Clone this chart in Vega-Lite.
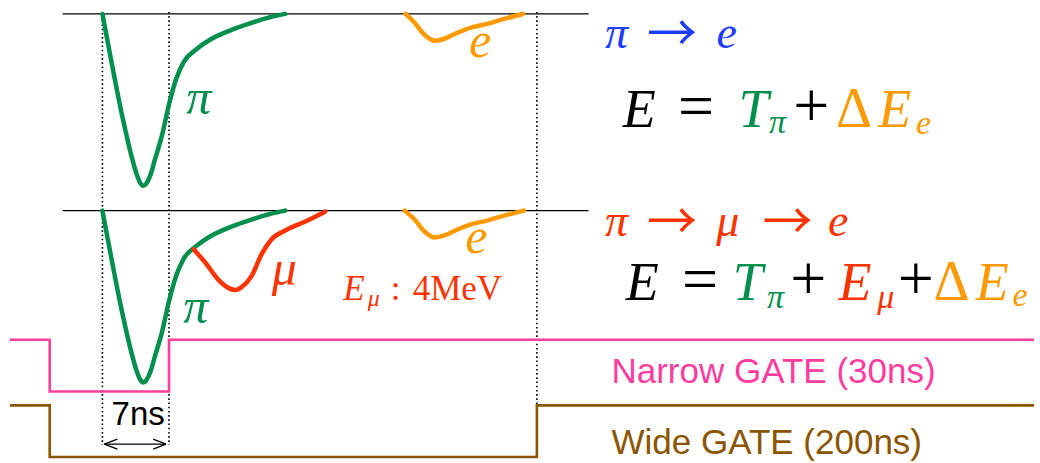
{
  "$schema": "https://vega.github.io/schema/vega-lite/v6.json",
  "width": 1040,
  "height": 463,
  "autosize": {"type": "fit", "contains": "padding"},
  "padding": 0,
  "background": "white",
  "config": {"view": {"stroke": null}},
  "datasets": {
    "baselines": [
      {"x": 63, "x2": 592, "y": 14},
      {"x": 63, "x2": 592, "y": 212}
    ],
    "timing": [
      {"x": 103, "y": 12, "y2": 448},
      {"x": 170, "y": 12, "y2": 448},
      {"x": 540, "y": 12, "y2": 408}
    ],
    "pulses": [
      {"trace": "pi1", "particle": "pion", "x": 103, "y": 14},
      {"trace": "pi1", "particle": "pion", "x": 113, "y": 67},
      {"trace": "pi1", "particle": "pion", "x": 123, "y": 117},
      {"trace": "pi1", "particle": "pion", "x": 133, "y": 160},
      {"trace": "pi1", "particle": "pion", "x": 137, "y": 174},
      {"trace": "pi1", "particle": "pion", "x": 141, "y": 184},
      {"trace": "pi1", "particle": "pion", "x": 144, "y": 187},
      {"trace": "pi1", "particle": "pion", "x": 147, "y": 185},
      {"trace": "pi1", "particle": "pion", "x": 151, "y": 177},
      {"trace": "pi1", "particle": "pion", "x": 156, "y": 160},
      {"trace": "pi1", "particle": "pion", "x": 163, "y": 136},
      {"trace": "pi1", "particle": "pion", "x": 170, "y": 105},
      {"trace": "pi1", "particle": "pion", "x": 177, "y": 80},
      {"trace": "pi1", "particle": "pion", "x": 185, "y": 62},
      {"trace": "pi1", "particle": "pion", "x": 197, "y": 50},
      {"trace": "pi1", "particle": "pion", "x": 213, "y": 39},
      {"trace": "pi1", "particle": "pion", "x": 233, "y": 30},
      {"trace": "pi1", "particle": "pion", "x": 253, "y": 23},
      {"trace": "pi1", "particle": "pion", "x": 273, "y": 17},
      {"trace": "pi1", "particle": "pion", "x": 287, "y": 14},
      {"trace": "e1", "particle": "positron", "x": 408, "y": 14},
      {"trace": "e1", "particle": "positron", "x": 417, "y": 23},
      {"trace": "e1", "particle": "positron", "x": 427, "y": 35},
      {"trace": "e1", "particle": "positron", "x": 437, "y": 41},
      {"trace": "e1", "particle": "positron", "x": 447, "y": 39},
      {"trace": "e1", "particle": "positron", "x": 460, "y": 33},
      {"trace": "e1", "particle": "positron", "x": 473, "y": 28},
      {"trace": "e1", "particle": "positron", "x": 490, "y": 24},
      {"trace": "e1", "particle": "positron", "x": 507, "y": 19},
      {"trace": "e1", "particle": "positron", "x": 526, "y": 14},
      {"trace": "pi2", "particle": "pion", "x": 103, "y": 212},
      {"trace": "pi2", "particle": "pion", "x": 113, "y": 265},
      {"trace": "pi2", "particle": "pion", "x": 123, "y": 315},
      {"trace": "pi2", "particle": "pion", "x": 133, "y": 358},
      {"trace": "pi2", "particle": "pion", "x": 137, "y": 372},
      {"trace": "pi2", "particle": "pion", "x": 141, "y": 382},
      {"trace": "pi2", "particle": "pion", "x": 144, "y": 385},
      {"trace": "pi2", "particle": "pion", "x": 147, "y": 383},
      {"trace": "pi2", "particle": "pion", "x": 151, "y": 375},
      {"trace": "pi2", "particle": "pion", "x": 156, "y": 358},
      {"trace": "pi2", "particle": "pion", "x": 163, "y": 334},
      {"trace": "pi2", "particle": "pion", "x": 170, "y": 303},
      {"trace": "pi2", "particle": "pion", "x": 177, "y": 278},
      {"trace": "pi2", "particle": "pion", "x": 185, "y": 260},
      {"trace": "pi2", "particle": "pion", "x": 197, "y": 248},
      {"trace": "pi2", "particle": "pion", "x": 213, "y": 237},
      {"trace": "pi2", "particle": "pion", "x": 233, "y": 228},
      {"trace": "pi2", "particle": "pion", "x": 253, "y": 221},
      {"trace": "pi2", "particle": "pion", "x": 273, "y": 215},
      {"trace": "pi2", "particle": "pion", "x": 287, "y": 212},
      {"trace": "mu2", "particle": "muon", "x": 195, "y": 251},
      {"trace": "mu2", "particle": "muon", "x": 207, "y": 265},
      {"trace": "mu2", "particle": "muon", "x": 220, "y": 282},
      {"trace": "mu2", "particle": "muon", "x": 230, "y": 290},
      {"trace": "mu2", "particle": "muon", "x": 237, "y": 292},
      {"trace": "mu2", "particle": "muon", "x": 243, "y": 289},
      {"trace": "mu2", "particle": "muon", "x": 253, "y": 278},
      {"trace": "mu2", "particle": "muon", "x": 263, "y": 256},
      {"trace": "mu2", "particle": "muon", "x": 273, "y": 241},
      {"trace": "mu2", "particle": "muon", "x": 287, "y": 232},
      {"trace": "mu2", "particle": "muon", "x": 307, "y": 223},
      {"trace": "mu2", "particle": "muon", "x": 327, "y": 213},
      {"trace": "e2", "particle": "positron", "x": 407, "y": 212},
      {"trace": "e2", "particle": "positron", "x": 417, "y": 221},
      {"trace": "e2", "particle": "positron", "x": 427, "y": 233},
      {"trace": "e2", "particle": "positron", "x": 437, "y": 239},
      {"trace": "e2", "particle": "positron", "x": 447, "y": 237},
      {"trace": "e2", "particle": "positron", "x": 460, "y": 231},
      {"trace": "e2", "particle": "positron", "x": 473, "y": 226},
      {"trace": "e2", "particle": "positron", "x": 490, "y": 222},
      {"trace": "e2", "particle": "positron", "x": 507, "y": 217},
      {"trace": "e2", "particle": "positron", "x": 527, "y": 212}
    ],
    "gates": [
      {"gate": "narrow", "x": 10, "y": 342},
      {"gate": "narrow", "x": 50, "y": 394},
      {"gate": "narrow", "x": 170, "y": 342},
      {"gate": "narrow", "x": 1040, "y": 342},
      {"gate": "wide", "x": 10, "y": 408},
      {"gate": "wide", "x": 50, "y": 460},
      {"gate": "wide", "x": 540, "y": 408},
      {"gate": "wide", "x": 1040, "y": 408}
    ],
    "span": [
      {"x": 105, "y": 447, "x2": 167, "y2": 447},
      {"x": 105, "y": 447, "x2": 118, "y2": 442},
      {"x": 105, "y": 447, "x2": 118, "y2": 452},
      {"x": 167, "y": 447, "x2": 154, "y2": 442},
      {"x": 167, "y": 447, "x2": 154, "y2": 452}
    ],
    "texts": [
      {"role": "decay", "hue": "chain1", "text": "π", "x": 620, "y": 48},
      {"role": "arrowGlyph", "hue": "chain1", "text": "→", "x": 676, "y": 48},
      {"role": "decay", "hue": "chain1", "text": "e", "x": 731, "y": 48},

      {"role": "symbol", "hue": "plain", "text": "E", "x": 643, "y": 128},
      {"role": "operator", "hue": "plain", "text": "=", "x": 700, "y": 128},
      {"role": "symbol", "hue": "pion", "text": "T", "x": 758, "y": 128},
      {"role": "subscript", "hue": "pion", "text": "π", "x": 782, "y": 134},
      {"role": "operator", "hue": "plain", "text": "+", "x": 816, "y": 128},
      {"role": "upright", "hue": "positron", "text": "Δ", "x": 859, "y": 128},
      {"role": "symbol", "hue": "positron", "text": "E", "x": 900, "y": 128},
      {"role": "subscript", "hue": "positron", "text": "e", "x": 929, "y": 135},

      {"role": "decay", "hue": "muon", "text": "π", "x": 620, "y": 238},
      {"role": "arrowGlyph", "hue": "muon", "text": "→", "x": 676, "y": 238},
      {"role": "decay", "hue": "muon", "text": "μ", "x": 732, "y": 238},
      {"role": "arrowGlyph", "hue": "muon", "text": "→", "x": 792, "y": 238},
      {"role": "decay", "hue": "muon", "text": "e", "x": 843, "y": 238},

      {"role": "symbol", "hue": "plain", "text": "E", "x": 646, "y": 302},
      {"role": "operator", "hue": "plain", "text": "=", "x": 704, "y": 302},
      {"role": "symbol", "hue": "pion", "text": "T", "x": 752, "y": 302},
      {"role": "subscript", "hue": "pion", "text": "π", "x": 780, "y": 310},
      {"role": "operator", "hue": "plain", "text": "+", "x": 813, "y": 302},
      {"role": "symbol", "hue": "muon", "text": "E", "x": 860, "y": 302},
      {"role": "subscript", "hue": "muon", "text": "μ", "x": 891, "y": 310},
      {"role": "operator", "hue": "plain", "text": "+", "x": 921, "y": 302},
      {"role": "upright", "hue": "positron", "text": "Δ", "x": 957, "y": 302},
      {"role": "symbol", "hue": "positron", "text": "E", "x": 998, "y": 302},
      {"role": "subscript", "hue": "positron", "text": "e", "x": 1026, "y": 308},

      {"role": "label", "hue": "pion", "text": "π", "x": 200, "y": 115},
      {"role": "label", "hue": "positron", "text": "e", "x": 483, "y": 57},
      {"role": "label", "hue": "pion", "text": "π", "x": 197, "y": 325},
      {"role": "label", "hue": "muon", "text": "μ", "x": 286, "y": 287},
      {"role": "label", "hue": "positron", "text": "e", "x": 479, "y": 255},

      {"role": "noteSymbol", "hue": "muon", "text": "E", "x": 356, "y": 302},
      {"role": "noteSub", "hue": "muon", "text": "μ", "x": 376, "y": 308},
      {"role": "note", "hue": "muon", "text": ":", "x": 398, "y": 302},
      {"role": "note", "hue": "muon", "text": "4MeV", "x": 460, "y": 302},

      {"role": "gateLabel", "hue": "narrow", "text": "Narrow GATE (30ns)", "x": 615, "y": 385},
      {"role": "gateLabel", "hue": "wide", "text": "Wide GATE (200ns)", "x": 615, "y": 457},
      {"role": "spanLabel", "hue": "plain", "text": "7ns", "x": 139, "y": 428}
    ]
  },
  "encoding": {
    "x": {"field": "x", "type": "quantitative", "scale": {"domain": [0, 1040], "nice": false, "zero": false}, "axis": null},
    "y": {"field": "y", "type": "quantitative", "scale": {"domain": [0, 463], "reverse": true, "nice": false, "zero": false}, "axis": null}
  },
  "layer": [
    {
      "data": {"name": "baselines"},
      "mark": {"type": "rule", "color": "#000000", "strokeWidth": 1.4},
      "encoding": {"x2": {"field": "x2"}}
    },
    {
      "data": {"name": "timing"},
      "mark": {"type": "rule", "color": "#000000", "strokeWidth": 1.6, "strokeDash": [1.6, 2.6]},
      "encoding": {"y2": {"field": "y2"}}
    },
    {
      "data": {"name": "gates"},
      "mark": {"type": "line", "interpolate": "step-after", "strokeWidth": 2.6},
      "encoding": {
        "detail": {"field": "gate"},
        "color": {"field": "gate", "type": "nominal", "legend": null,
          "scale": {"domain": ["plain", "pion", "muon", "positron", "chain1", "narrow", "wide"],
                    "range": ["#000000", "#008F4C", "#FF3300", "#FF9900", "#1E3CFF", "#FF3D9E", "#8B5500"]}}
      }
    },
    {
      "data": {"name": "pulses"},
      "mark": {"type": "line", "interpolate": "monotone", "strokeWidth": 4.5, "strokeCap": "round", "strokeJoin": "round"},
      "encoding": {
        "detail": {"field": "trace"},
        "color": {"field": "particle", "type": "nominal", "legend": null}
      }
    },
    {
      "data": {"name": "span"},
      "mark": {"type": "rule", "color": "#000000", "strokeWidth": 1.3},
      "encoding": {"x2": {"field": "x2"}, "y2": {"field": "y2"}}
    },
    {
      "data": {"name": "texts"},
      "transform": [{"filter": "datum.role == 'symbol'"}],
      "mark": {"type": "text", "font": "Liberation Serif", "fontStyle": "italic", "fontSize": 54, "align": "center", "baseline": "alphabetic"},
      "encoding": {"text": {"field": "text"}, "color": {"field": "hue", "type": "nominal", "legend": null}}
    },
    {
      "data": {"name": "texts"},
      "transform": [{"filter": "datum.role == 'operator'"}],
      "mark": {"type": "text", "font": "Liberation Serif", "fontSize": 64, "align": "center", "baseline": "alphabetic"},
      "encoding": {"text": {"field": "text"}, "color": {"field": "hue", "type": "nominal", "legend": null}}
    },
    {
      "data": {"name": "texts"},
      "transform": [{"filter": "datum.role == 'upright'"}],
      "mark": {"type": "text", "font": "Liberation Serif", "fontSize": 56, "align": "center", "baseline": "alphabetic"},
      "encoding": {"text": {"field": "text"}, "color": {"field": "hue", "type": "nominal", "legend": null}}
    },
    {
      "data": {"name": "texts"},
      "transform": [{"filter": "datum.role == 'subscript'"}],
      "mark": {"type": "text", "font": "Liberation Serif", "fontStyle": "italic", "fontSize": 34, "align": "center", "baseline": "alphabetic"},
      "encoding": {"text": {"field": "text"}, "color": {"field": "hue", "type": "nominal", "legend": null}}
    },
    {
      "data": {"name": "texts"},
      "transform": [{"filter": "datum.role == 'decay'"}],
      "mark": {"type": "text", "font": "Liberation Serif", "fontStyle": "italic", "fontSize": 46, "align": "center", "baseline": "alphabetic"},
      "encoding": {"text": {"field": "text"}, "color": {"field": "hue", "type": "nominal", "legend": null}}
    },
    {
      "data": {"name": "texts"},
      "transform": [{"filter": "datum.role == 'arrowGlyph'"}],
      "mark": {"type": "text", "font": "Noto Sans CJK JP", "fontSize": 50, "align": "center", "baseline": "alphabetic", "dy": 3},
      "encoding": {"text": {"field": "text"}, "color": {"field": "hue", "type": "nominal", "legend": null}}
    },
    {
      "data": {"name": "texts"},
      "transform": [{"filter": "datum.role == 'label'"}],
      "mark": {"type": "text", "font": "Liberation Serif", "fontStyle": "italic", "fontSize": 50, "align": "center", "baseline": "alphabetic"},
      "encoding": {"text": {"field": "text"}, "color": {"field": "hue", "type": "nominal", "legend": null}}
    },
    {
      "data": {"name": "texts"},
      "transform": [{"filter": "datum.role == 'noteSymbol'"}],
      "mark": {"type": "text", "font": "Liberation Serif", "fontStyle": "italic", "fontSize": 35, "align": "center", "baseline": "alphabetic"},
      "encoding": {"text": {"field": "text"}, "color": {"field": "hue", "type": "nominal", "legend": null}}
    },
    {
      "data": {"name": "texts"},
      "transform": [{"filter": "datum.role == 'noteSub'"}],
      "mark": {"type": "text", "font": "Liberation Serif", "fontStyle": "italic", "fontSize": 24, "align": "center", "baseline": "alphabetic"},
      "encoding": {"text": {"field": "text"}, "color": {"field": "hue", "type": "nominal", "legend": null}}
    },
    {
      "data": {"name": "texts"},
      "transform": [{"filter": "datum.role == 'note'"}],
      "mark": {"type": "text", "font": "Liberation Serif", "fontSize": 35, "align": "center", "baseline": "alphabetic"},
      "encoding": {"text": {"field": "text"}, "color": {"field": "hue", "type": "nominal", "legend": null}}
    },
    {
      "data": {"name": "texts"},
      "transform": [{"filter": "datum.role == 'gateLabel'"}],
      "mark": {"type": "text", "font": "Liberation Sans", "fontSize": 35, "align": "left", "baseline": "alphabetic"},
      "encoding": {"text": {"field": "text"}, "color": {"field": "hue", "type": "nominal", "legend": null}}
    },
    {
      "data": {"name": "texts"},
      "transform": [{"filter": "datum.role == 'spanLabel'"}],
      "mark": {"type": "text", "font": "Liberation Sans", "fontSize": 33, "align": "center", "baseline": "alphabetic"},
      "encoding": {"text": {"field": "text"}, "color": {"field": "hue", "type": "nominal", "legend": null}}
    }
  ]
}
